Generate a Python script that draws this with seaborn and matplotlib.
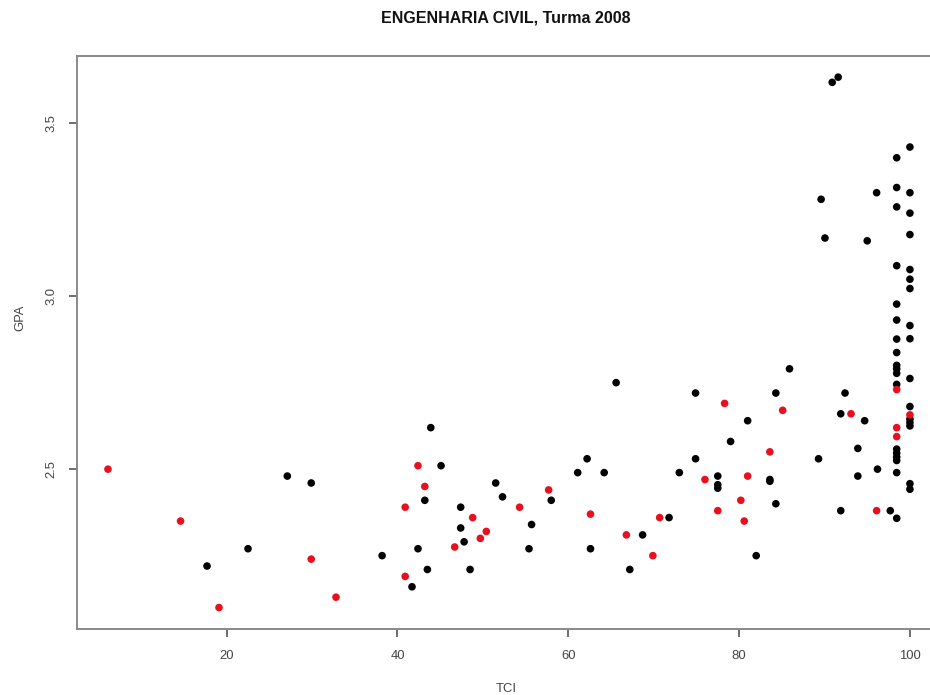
import matplotlib
matplotlib.use("Agg")
import matplotlib.pyplot as plt
import seaborn as sns
import pandas as pd

# ---- data ----
black_tci = [17.7, 22.5, 27.1, 29.9, 38.2, 41.7, 42.4, 43.2, 43.5, 43.9, 45.1, 47.4, 47.4, 47.8,
             48.5, 51.5, 52.3, 55.7, 55.4, 58.0, 61.1, 62.2, 64.2, 65.6, 62.6, 67.2, 68.7, 71.8,
             73.0, 74.9, 74.9, 77.5, 77.5, 77.5, 79.0, 81.0, 82.0, 83.6, 83.6, 84.3, 84.3, 85.9,
             89.3, 91.9, 92.4, 91.9, 94.7, 93.9, 93.9, 96.2, 97.7,
             98.45, 98.45, 98.45, 98.45, 98.45, 98.45, 98.45, 98.45, 98.45, 98.45, 98.45, 98.45,
             98.45, 98.45, 98.45, 98.45, 98.45, 98.45,
             100, 100, 100, 100, 100, 100, 100, 100, 100, 100, 100, 100, 100, 100, 100, 100,
             90.9, 91.6, 96.1, 89.6, 90.05, 95.0]
black_gpa = [2.22, 2.27, 2.48, 2.46, 2.25, 2.16, 2.27, 2.41, 2.21, 2.62, 2.51, 2.39, 2.33, 2.29,
             2.21, 2.46, 2.42, 2.34, 2.27, 2.41, 2.49, 2.53, 2.49, 2.75, 2.27, 2.21, 2.31, 2.36,
             2.49, 2.72, 2.53, 2.48, 2.455, 2.445, 2.58, 2.64, 2.25, 2.47, 2.465, 2.72, 2.40, 2.79,
             2.53, 2.66, 2.72, 2.38, 2.64, 2.56, 2.48, 2.50, 2.38,
             3.40, 3.314, 3.258, 3.088, 2.977, 2.931, 2.876, 2.837, 2.80, 2.79, 2.777, 2.745,
             2.558, 2.546, 2.535, 2.525, 2.49, 2.358,
             3.431, 3.299, 3.24, 3.178, 3.077, 3.049, 3.022, 2.915, 2.877, 2.762, 2.681, 2.645,
             2.635, 2.625, 2.458, 2.442,
             3.618, 3.633, 3.299, 3.28, 3.168, 3.16]
red_tci = [6.1, 14.6, 19.1, 29.9, 32.8, 40.9, 40.9, 42.4, 43.2, 46.7, 48.8, 49.7, 50.4, 54.3,
           57.7, 62.6, 66.8, 69.9, 70.7, 76.0, 77.5, 78.3, 80.2, 80.6, 81.0, 83.6, 85.1, 93.1,
           96.1, 98.45, 98.45, 98.45, 100]
red_gpa = [2.50, 2.35, 2.10, 2.24, 2.13, 2.19, 2.39, 2.51, 2.45, 2.275, 2.36, 2.30, 2.32, 2.39,
           2.44, 2.37, 2.31, 2.25, 2.36, 2.47, 2.38, 2.69, 2.41, 2.35, 2.48, 2.55, 2.67, 2.66,
           2.38, 2.73, 2.62, 2.594, 2.657]
groups = ["black", "red"]
x_ticks = [20, 40, 60, 80, 100]
y_ticks = [2.5, 3.0, 3.5]
title = "ENGENHARIA CIVIL, Turma 2008"

df = pd.DataFrame({
    "TCI": black_tci + red_tci,
    "GPA": black_gpa + red_gpa,
    "grp": [groups[0]] * len(black_tci) + [groups[1]] * len(red_tci),
})

sns.set_style("white")
plt.rcParams["font.family"] = ["Liberation Sans", "DejaVu Sans"]

fig = plt.figure(figsize=(9.3, 6.95), dpi=100)
ax = fig.add_axes([76.7 / 930, 66 / 695, 1 - 76.7 / 930, (629 - 55.7) / 695])

sns.scatterplot(data=df, x="TCI", y="GPA", hue="grp", hue_order=groups,
                palette={"black": "#000000", "red": "#e8101e"},
                s=30, linewidth=0, legend=False, ax=ax)

ax.set_xlim(2.44, 102.35)
ax.set_ylim(2.038, 3.695)
ax.set_xticks(x_ticks)
ax.set_xticklabels([str(v) for v in x_ticks])
ax.set_yticks(y_ticks)
ax.set_yticklabels([f"{v:.1f}" for v in y_ticks], rotation=90, va="center")

for side in ["left", "bottom", "top"]:
    ax.spines[side].set_visible(True)
    ax.spines[side].set_color("#8a8a8a")
    ax.spines[side].set_linewidth(1.4)
ax.spines["right"].set_visible(False)

ax.tick_params(axis="both", which="major", length=6, width=1.2, color="#555555",
               labelsize=9.4, labelcolor="#444444", direction="out",
               bottom=True, left=True)
ax.tick_params(axis="x", pad=9)
ax.tick_params(axis="y", pad=8)

ax.set_xlabel("TCI", fontsize=9.4, color="#444444")
ax.set_ylabel("GPA", fontsize=9.4, color="#444444")
ax.xaxis.set_label_coords((506 - 76.7) / (930 - 76.7), -(689 - 629) / (629 - 55.7))
ax.yaxis.set_label_coords(-(76.7 - 20) / (930 - 76.7), (629 - 318) / (629 - 55.7))
ax.xaxis.label.set_va("center")
ax.yaxis.label.set_va("center")

fig.text(506 / 930, 1 - 18 / 695, title, ha="center", va="center",
         fontsize=11.5, fontweight="bold", color="#111111")

fig.savefig("out.png", dpi=100, facecolor="white")
